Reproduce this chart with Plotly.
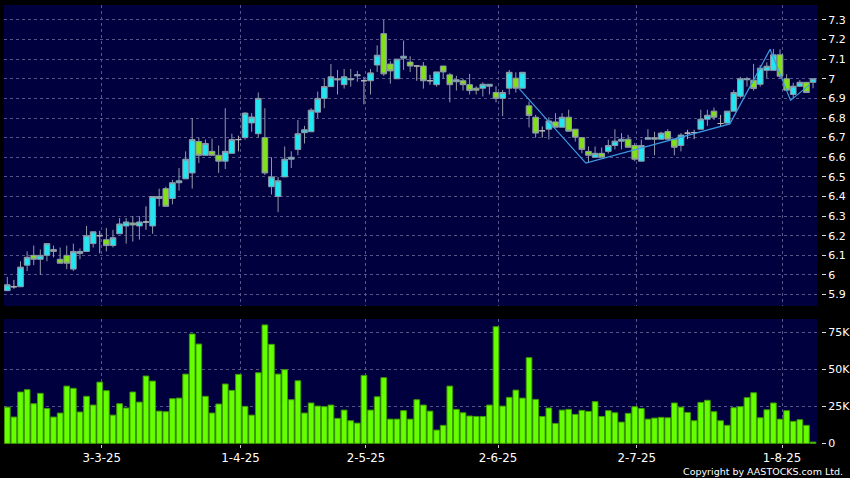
import plotly.graph_objects as go

# ---- data ----
opens = [5.92, 5.94, 5.94, 6.05, 6.10, 6.08, 6.10, 6.13, 6.08, 6.10,
         6.03, 6.11, 6.12, 6.16, 6.20, 6.18, 6.15, 6.21, 6.25, 6.265,
         6.25, 6.27, 6.25, 6.39, 6.44, 6.39, 6.47, 6.49, 6.52, 6.68,
         6.61, 6.63, 6.61, 6.58, 6.62, 6.69, 6.70, 6.775, 6.72, 6.70,
         6.45, 6.40, 6.50, 6.59, 6.64, 6.725, 6.73, 6.83, 6.90, 6.96,
         7.00, 6.97, 6.995, 7.015, 6.99, 6.99, 7.07, 7.23, 7.075, 7.00,
         7.105, 7.085, 7.065, 7.065, 6.99, 6.97, 7.065, 7.02, 6.985, 6.99,
         6.97, 6.952, 6.952, 6.962, 6.93, 6.90, 6.952, 7.003, 6.952, 6.862,
         6.804, 6.735, 6.743, 6.78, 6.753, 6.804, 6.743, 6.70, 6.63, 6.60,
         6.62, 6.63, 6.66, 6.682, 6.692, 6.66, 6.58, 6.692, 6.70, 6.692,
         6.731, 6.692, 6.66, 6.723, 6.726, 6.743, 6.794, 6.835, 6.772, 6.774,
         6.835, 6.911, 6.995, 6.993, 6.972, 7.043, 7.043, 7.122, 7.00, 6.92,
         6.962, 6.982, 6.982]
highs = [5.99, 5.975, 6.07, 6.12, 6.15, 6.13, 6.16, 6.15, 6.14, 6.15,
         6.16, 6.135, 6.25, 6.22, 6.225, 6.24, 6.23, 6.29, 6.29, 6.30,
         6.30, 6.35, 6.40, 6.44, 6.45, 6.485, 6.545, 6.63, 6.80, 6.70,
         6.69, 6.695, 6.66, 6.85, 6.72, 6.71, 6.83, 6.825, 6.93, 6.85,
         6.60, 6.50, 6.655, 6.63, 6.79, 6.76, 6.85, 6.935, 7.00, 7.075,
         7.045, 7.05, 7.05, 7.04, 7.01, 7.05, 7.17, 7.30, 7.09, 7.10,
         7.195, 7.115, 7.065, 7.085, 7.02, 7.035, 7.065, 7.03, 7.015, 7.00,
         7.025, 6.962, 6.982, 6.972, 6.962, 6.943, 7.045, 7.033, 7.033, 6.884,
         6.816, 6.757, 6.804, 6.825, 6.825, 6.842, 6.743, 6.70, 6.655, 6.655,
         6.65, 6.69, 6.743, 6.723, 6.714, 6.672, 6.69, 6.743, 6.73, 6.73,
         6.743, 6.692, 6.723, 6.74, 6.74, 6.842, 6.842, 6.853, 6.816, 6.835,
         6.943, 7.01, 7.01, 7.076, 7.07, 7.084, 7.152, 7.15, 7.023, 6.98,
         6.993, 6.982, 7.00]
lows = [5.92, 5.93, 5.94, 6.02, 6.05, 6.00, 6.07, 6.09, 6.06, 6.03,
        6.02, 6.08, 6.12, 6.14, 6.11, 6.12, 6.14, 6.21, 6.16, 6.17,
        6.18, 6.23, 6.21, 6.35, 6.35, 6.36, 6.43, 6.49, 6.44, 6.57,
        6.61, 6.61, 6.52, 6.54, 6.62, 6.63, 6.69, 6.73, 6.70, 6.51,
        6.41, 6.32, 6.50, 6.545, 6.61, 6.67, 6.73, 6.80, 6.85, 6.96,
        6.92, 6.95, 6.96, 6.985, 6.87, 6.92, 7.035, 7.015, 6.975, 7.00,
        7.045, 7.035, 6.99, 6.95, 6.97, 6.96, 7.00, 6.88, 6.94, 6.94,
        6.92, 6.92, 6.91, 6.92, 6.88, 6.81, 6.92, 6.93, 6.952, 6.752,
        6.70, 6.70, 6.69, 6.753, 6.753, 6.733, 6.68, 6.62, 6.57, 6.60,
        6.60, 6.62, 6.64, 6.64, 6.65, 6.58, 6.58, 6.69, 6.61, 6.69,
        6.69, 6.61, 6.63, 6.692, 6.692, 6.743, 6.76, 6.79, 6.757, 6.774,
        6.835, 6.90, 6.96, 6.94, 6.96, 7.003, 7.043, 7.00, 6.94, 6.90,
        6.96, 6.93, 6.952]
closes = [5.95, 5.94, 6.04, 6.09, 6.08, 6.10, 6.16, 6.12, 6.06, 6.06,
          6.12, 6.12, 6.20, 6.22, 6.20, 6.15, 6.19, 6.26, 6.27, 6.255,
          6.27, 6.27, 6.40, 6.40, 6.35, 6.47, 6.48, 6.59, 6.69, 6.61,
          6.67, 6.61, 6.58, 6.63, 6.69, 6.69, 6.825, 6.805, 6.90, 6.52,
          6.50, 6.48, 6.59, 6.60, 6.72, 6.74, 6.84, 6.90, 6.96, 7.01,
          6.995, 7.01, 7.00, 7.02, 6.99, 7.03, 7.12, 7.025, 7.04, 7.10,
          7.115, 7.065, 7.065, 6.99, 6.99, 7.035, 7.035, 6.97, 6.995, 6.97,
          6.94, 6.942, 6.972, 6.972, 6.90, 6.93, 7.033, 6.952, 7.033, 6.813,
          6.723, 6.735, 6.785, 6.753, 6.804, 6.733, 6.702, 6.64, 6.61, 6.62,
          6.60, 6.66, 6.682, 6.692, 6.651, 6.59, 6.66, 6.70, 6.692, 6.723,
          6.692, 6.651, 6.713, 6.723, 6.726, 6.794, 6.814, 6.804, 6.772, 6.835,
          6.93, 7.00, 7.00, 6.95, 7.054, 7.064, 7.122, 7.013, 6.942, 6.962,
          6.982, 6.93, 7.00]
volumes = [24.5, 17.8, 34.7, 36.3, 26.8, 33.8, 23.6, 17.8, 20.5, 38.7,
           37.2, 21.2, 31.8, 25.9, 41.4, 35.6, 19.1, 26.8, 23.9, 34.7,
           27.9, 45.5, 42.1, 21.8, 21.4, 30.2, 30.6, 46.8, 73.9, 67.1,
           31.8, 20.5, 26.6, 40.1, 35.8, 46.6, 25.0, 19.1, 47.7, 80.0,
           66.9, 46.8, 49.8, 29.5, 42.3, 20.5, 27.3, 25.2, 24.8, 25.9,
           16.9, 22.5, 15.3, 13.7, 45.9, 22.5, 31.5, 44.4, 16.4, 16.4,
           22.1, 16.4, 29.5, 25.9, 21.8, 9.0, 12.2, 38.7, 23.0, 20.7,
           18.5, 18.2, 18.2, 25.9, 78.8, 25.2, 31.1, 36.0, 30.6, 57.9,
           29.7, 18.2, 23.9, 13.5, 22.5, 23.0, 19.6, 22.3, 21.6, 28.2,
           18.2, 22.1, 20.7, 14.4, 20.3, 24.8, 23.6, 16.4, 17.1, 17.6,
           17.3, 27.3, 24.5, 20.9, 15.3, 27.7, 29.1, 21.4, 15.3, 12.2,
           24.1, 24.8, 30.9, 34.2, 17.3, 22.7, 27.3, 16.4, 22.1, 14.9,
           16.0, 12.2, 0.9]  # thousands of shares
zigzag_pos = [77.5, 87.6, 109.4, 115.5, 118.6, 121.5]
zigzag_val = [6.95, 6.57, 6.77, 7.15, 6.89, 6.97]
date_labels = ["3-3-25", "1-4-25", "2-5-25", "2-6-25", "2-7-25", "1-8-25"]
date_bar_index = [14, 35, 54, 74, 95, 117]
price_ticks = [5.9, 6.0, 6.1, 6.2, 6.3, 6.4, 6.5, 6.6, 6.7, 6.8, 6.9, 7.0, 7.1, 7.2, 7.3]
vol_ticks = [0, 25, 50, 75]

# ---- styling ----
NAVY = "#00003f"
GRID = "#55558a"
CYAN = "#20e6f2"
GREEN = "#82e018"
WICK = "#8f9aa8"
FONT = "DejaVu Sans"

n = len(opens)
idx = list(range(n))
groups = {
    "up": [i for i in idx if closes[i] > opens[i]],
    "down": [i for i in idx if closes[i] < opens[i]],
    "flat": [i for i in idx if closes[i] == opens[i]],
}
fills = {"up": CYAN, "down": GREEN, "flat": "#b0b0b0"}
lines = {"up": WICK, "down": WICK, "flat": "#b4b4b4"}

fig = go.Figure()
for key, ids in groups.items():
    fig.add_trace(go.Candlestick(
        x=ids,
        open=[opens[i] for i in ids],
        high=[highs[i] for i in ids],
        low=[lows[i] for i in ids],
        close=[closes[i] for i in ids],
        increasing=dict(fillcolor=fills[key], line=dict(color=lines[key], width=1)),
        decreasing=dict(fillcolor=fills[key], line=dict(color=lines[key], width=1)),
        xaxis="x", yaxis="y", showlegend=False, hoverinfo="skip",
    ))

fig.add_trace(go.Scatter(
    x=zigzag_pos, y=zigzag_val, mode="lines",
    line=dict(color="#3d9be0", width=1.2),
    xaxis="x", yaxis="y", showlegend=False, hoverinfo="skip",
))

fig.add_trace(go.Bar(
    x=idx, y=[v * 1000 for v in volumes], width=0.86,
    marker=dict(color="#66ff00", line=dict(color="#3f9a00", width=1)),
    xaxis="x2", yaxis="y2", showlegend=False, hoverinfo="skip",
))

tick_pos = [d + 0.3 for d in date_bar_index]
xr = [-0.5, 122.6]
common_x = dict(range=xr, showgrid=True, gridcolor=GRID, griddash="3px,3px",
                gridwidth=1, zeroline=False, showline=False,
                tickvals=tick_pos, ticktext=date_labels, fixedrange=True)

fig.update_layout(
    width=850, height=478,
    paper_bgcolor="#000000", plot_bgcolor=NAVY,
    margin=dict(l=4, r=33, t=5, b=34, autoexpand=False),
    boxgap=0.1, boxgroupgap=0.05,
    hovermode=False, showlegend=False,
    font=dict(family=FONT, color="#ffffff", size=11),
    xaxis=dict(domain=[0, 1], anchor="y", showticklabels=False, ticks="",
               rangeslider=dict(visible=False), **common_x),
    xaxis2=dict(domain=[0, 1], anchor="y2", showticklabels=True, ticks="outside",
                ticklen=3, tickcolor="#cccccc",
                tickfont=dict(family=FONT, size=11.8, color="#ffffff"), **common_x),
    yaxis=dict(domain=[0.3144, 1], range=[5.842, 7.376], side="right",
               anchor="free", position=1, shift=4,
               tickvals=price_ticks,
               ticktext=[("%g" % t) for t in price_ticks],
               ticks="outside", ticklen=4, tickcolor="#dddddd",
               tickfont=dict(family=FONT, size=11, color="#ffffff"),
               showgrid=True, gridcolor=GRID, griddash="3px,3px", gridwidth=1,
               zeroline=False, showline=False, fixedrange=True),
    yaxis2=dict(domain=[0, 0.2847], range=[-400, 84000], side="right",
                anchor="free", position=1, shift=4,
                tickvals=[v * 1000 for v in vol_ticks],
                ticktext=[("%dK" % v) if v else "0" for v in vol_ticks],
                ticks="outside", ticklen=4, tickcolor="#dddddd",
                tickfont=dict(family=FONT, size=11, color="#ffffff"),
                showgrid=True, gridcolor=GRID, griddash="3px,3px", gridwidth=1,
                zeroline=False, showline=False, fixedrange=True),
)

fig.add_annotation(
    text="Copyright by AASTOCKS.com Ltd.", xref="paper", yref="paper",
    x=1, y=0, xanchor="right", yanchor="middle", xshift=28, yshift=-27,
    showarrow=False, font=dict(family=FONT, size=9.5, color="#ffffff"),
)

fig.write_html(
    "out.html",
    config={"displayModeBar": False, "staticPlot": True},
    post_script="document.body.style.margin='0';document.body.style.padding='0';",
)
